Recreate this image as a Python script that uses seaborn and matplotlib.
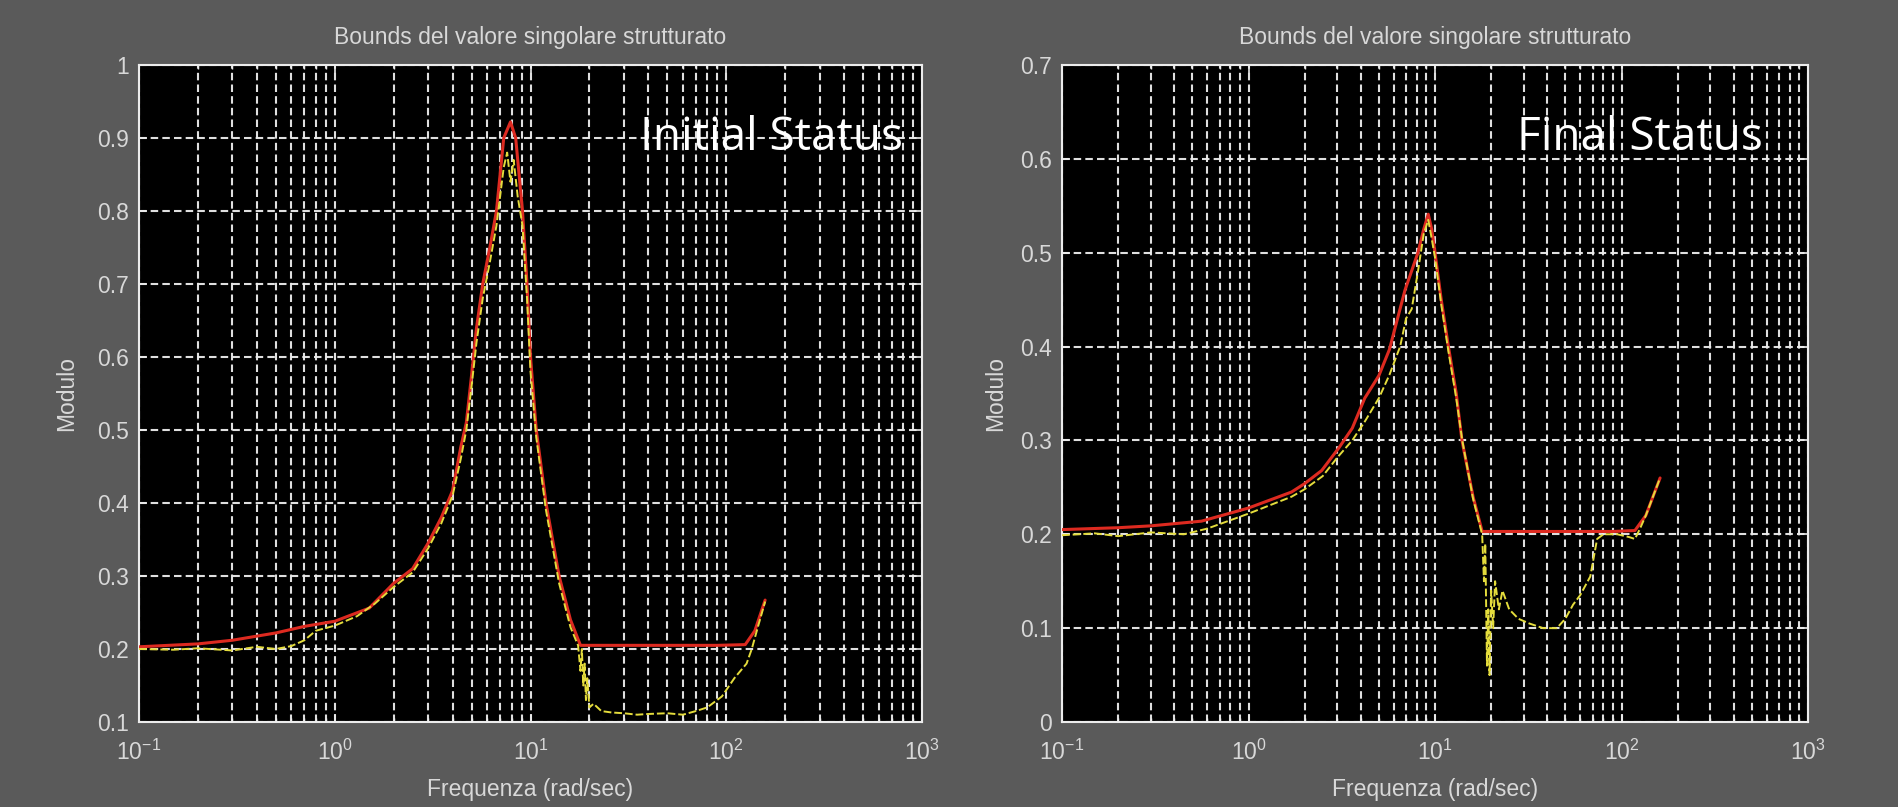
import matplotlib
matplotlib.use("Agg")
import matplotlib.pyplot as plt
import matplotlib.ticker as mticker
import pandas as pd
import seaborn as sns

# ---------------------------------------------------------------- data
# Structured singular value bounds, initial design
freq_up_init = [0.1, 0.2, 0.3, 0.5, 0.7, 1.0, 1.5, 2.0, 2.5, 3.0, 3.5, 4.0,
                4.4, 4.7, 5.0, 5.3, 5.7, 6.2, 6.7, 7.3, 7.9, 8.4, 9.1, 9.6,
                10.0, 10.7, 12.0, 14.0, 16.0, 18.0, 25, 40, 60, 90, 125,
                140, 158]
upper_init = [0.203, 0.207, 0.212, 0.222, 0.231, 0.238, 0.256, 0.290, 0.310,
              0.345, 0.380, 0.417, 0.476, 0.510, 0.575, 0.640, 0.700, 0.750,
              0.800, 0.900, 0.922, 0.900, 0.800, 0.700, 0.600, 0.500, 0.400,
              0.300, 0.240, 0.205, 0.205, 0.205, 0.205, 0.205, 0.206, 0.225,
              0.267]

freq_lo_init = [0.1, 0.15, 0.2, 0.3, 0.4, 0.5, 0.6, 0.7, 0.8, 1.0, 1.3, 1.6,
                2.0, 2.5, 3.0, 3.5, 4.0, 4.4, 4.7, 5.0, 5.3, 5.7, 6.2, 6.7,
                7.3, 7.6, 7.9, 8.2, 8.6, 9.1, 9.6, 10.0, 10.7, 12.0, 14.0,
                16.0, 17.5, 18.0, 18.3, 18.6, 18.9, 19.2, 19.5, 20, 21, 23,
                26, 30, 35, 40, 50, 60, 70, 80, 95, 110, 127, 135, 145, 158]
lower_init = [0.200, 0.199, 0.201, 0.198, 0.203, 0.200, 0.204, 0.212, 0.225,
              0.232, 0.245, 0.262, 0.285, 0.305, 0.338, 0.372, 0.410, 0.460,
              0.500, 0.560, 0.620, 0.680, 0.730, 0.780, 0.860, 0.880, 0.840,
              0.870, 0.820, 0.780, 0.680, 0.580, 0.490, 0.390, 0.290, 0.230,
              0.205, 0.170, 0.200, 0.150, 0.180, 0.130, 0.160, 0.120, 0.125,
              0.115, 0.113, 0.112, 0.110, 0.111, 0.112, 0.110, 0.115, 0.120,
              0.135, 0.160, 0.180, 0.200, 0.230, 0.265]

# Structured singular value bounds, final design
freq_up_final = [0.1, 0.2, 0.3, 0.56, 1.0, 1.7, 2.0, 2.47, 3.05, 3.6, 4.2,
                 5.0, 5.7, 6.9, 8.1, 8.7, 9.2, 9.6, 10.0, 10.8, 11.8, 13.0,
                 13.95, 16.0, 17.9, 25, 40, 60, 90, 118, 135, 161]
upper_final = [0.205, 0.207, 0.209, 0.214, 0.228, 0.245, 0.254, 0.268, 0.292,
               0.313, 0.345, 0.369, 0.397, 0.460, 0.500, 0.525, 0.541, 0.525,
               0.500, 0.450, 0.400, 0.350, 0.300, 0.240, 0.203, 0.203, 0.203,
               0.203, 0.203, 0.204, 0.220, 0.260]

freq_lo_final = [0.1, 0.15, 0.2, 0.3, 0.45, 0.6, 1.0, 1.7, 2.0, 2.5, 3.0,
                 3.6, 4.2, 5.0, 5.7, 6.5, 7.0, 7.5, 8.1, 8.7, 9.2, 9.6, 10.0,
                 10.8, 11.8, 13.0, 14.0, 16.0, 17.9, 18.3, 18.6, 19.0, 19.3,
                 19.6, 20.0, 20.5, 21, 22, 23, 25, 28, 32, 38, 45, 50, 55, 60,
                 68, 74, 80, 95, 110, 118, 125, 135, 161]
lower_final = [0.199, 0.201, 0.198, 0.202, 0.200, 0.206, 0.222, 0.240, 0.248,
               0.262, 0.282, 0.300, 0.320, 0.345, 0.370, 0.400, 0.430, 0.440,
               0.480, 0.520, 0.535, 0.515, 0.495, 0.445, 0.395, 0.345, 0.300,
               0.238, 0.200, 0.150, 0.190, 0.060, 0.120, 0.050, 0.140, 0.100,
               0.150, 0.120, 0.140, 0.120, 0.110, 0.105, 0.100, 0.100, 0.110,
               0.125, 0.135, 0.155, 0.195, 0.200, 0.200, 0.197, 0.195, 0.205,
               0.220, 0.260]

x_ticks = [0.1, 1, 10, 100, 1000]
x_tick_labels = [r"$\mathdefault{10^{-1}}$", r"$\mathdefault{10^{0}}$",
                 r"$\mathdefault{10^{1}}$", r"$\mathdefault{10^{2}}$",
                 r"$\mathdefault{10^{3}}$"]
y_ticks_init = [0.1, 0.2, 0.3, 0.4, 0.5, 0.6, 0.7, 0.8, 0.9, 1.0]
y_labels_init = ["0.1", "0.2", "0.3", "0.4", "0.5", "0.6", "0.7", "0.8",
                 "0.9", "1"]
y_ticks_final = [0.0, 0.1, 0.2, 0.3, 0.4, 0.5, 0.6, 0.7]
y_labels_final = ["0", "0.1", "0.2", "0.3", "0.4", "0.5", "0.6", "0.7"]

title_text = "Bounds del valore singolare strutturato"
x_label = "Frequenza (rad/sec)"
y_label = "Modulo"

# ---------------------------------------------------------------- style
sns.set_style("dark")
plt.rcParams["font.family"] = ["Liberation Sans", "DejaVu Sans"]

BG = "#5a5a5a"
TXT = "#d8d8d8"
RED = "#dd2a20"
YEL = "#e4dc3c"
GRID = "#ececec"
FS = 16.5

fig = plt.figure(figsize=(18.98, 8.07), dpi=100, facecolor=BG)
W, H = 1898, 807


def panel(rect, f_up, v_up, f_lo, v_lo, yt, yl, ylim, status, status_x,
          ylab_x):
    ax = fig.add_axes(rect)
    ax.set_facecolor("black")
    ax.set_xscale("log")

    up = pd.DataFrame({"freq": f_up, "mu": v_up})
    lo = pd.DataFrame({"freq": f_lo, "mu": v_lo})
    sns.lineplot(data=up, x="freq", y="mu", ax=ax, color=RED, lw=2.2,
                 sort=False, estimator=None, zorder=3)
    sns.lineplot(data=lo, x="freq", y="mu", ax=ax, color=YEL, lw=1.4,
                 sort=False, estimator=None, zorder=4)
    ax.lines[-1].set_dashes([4, 1.5])

    ax.set_xlim(0.1, 1000)
    ax.set_ylim(*ylim)

    ax.xaxis.set_minor_locator(mticker.LogLocator(base=10, subs=range(2, 10),
                                                  numticks=20))
    ax.xaxis.set_minor_formatter(mticker.NullFormatter())
    ax.set_xticks(x_ticks)
    ax.set_xticklabels(x_tick_labels)
    ax.set_yticks(yt)
    ax.set_yticklabels(yl)

    grid_kw = dict(color=GRID, lw=1.5, linestyle=(0, (3.6, 2.0)), alpha=0.95)
    ax.grid(True, which="both", axis="x", **grid_kw)
    ax.grid(True, which="major", axis="y", **grid_kw)
    ax.set_axisbelow(True)

    ax.tick_params(which="both", direction="in", colors=GRID, top=True,
                   right=True, bottom=True, left=True, labelcolor=TXT,
                   labelsize=FS)
    ax.tick_params(which="major", length=6, width=1.2)
    ax.tick_params(which="minor", length=3, width=1.0)
    ax.tick_params(axis="x", pad=13)
    ax.tick_params(axis="y", pad=7)

    for sp in ax.spines.values():
        sp.set_color(GRID)
        sp.set_linewidth(1.5)
        sp.set_visible(True)

    ax.set_xlabel(x_label, color=TXT, fontsize=FS)
    ax.xaxis.set_label_coords(0.5, -0.085)
    ax.set_ylabel(y_label, color=TXT, fontsize=FS)
    ax.yaxis.set_label_coords(ylab_x, 0.5)
    ax.text(0.5, 1.042, title_text, transform=ax.transAxes, ha="center",
            va="center", color=TXT, fontsize=FS)

    ax.text(status_x, 0.871, status, transform=ax.transAxes, ha="left",
            va="baseline", color="white", fontsize=33,
            family=["Open Sans", "DejaVu Sans"])
    return ax


panel([139 / W, 85 / H, 783 / W, 657 / H], freq_up_init, upper_init,
      freq_lo_init, lower_init, y_ticks_init, y_labels_init, (0.1, 1.0),
      "Initial Status", 0.64, -0.078)
panel([1062 / W, 85 / H, 746 / W, 657 / H], freq_up_final, upper_final,
      freq_lo_final, lower_final, y_ticks_final, y_labels_final, (0.0, 0.7),
      "Final Status", 0.61, -0.074)

fig.savefig("out.png", dpi=100, facecolor=BG)
